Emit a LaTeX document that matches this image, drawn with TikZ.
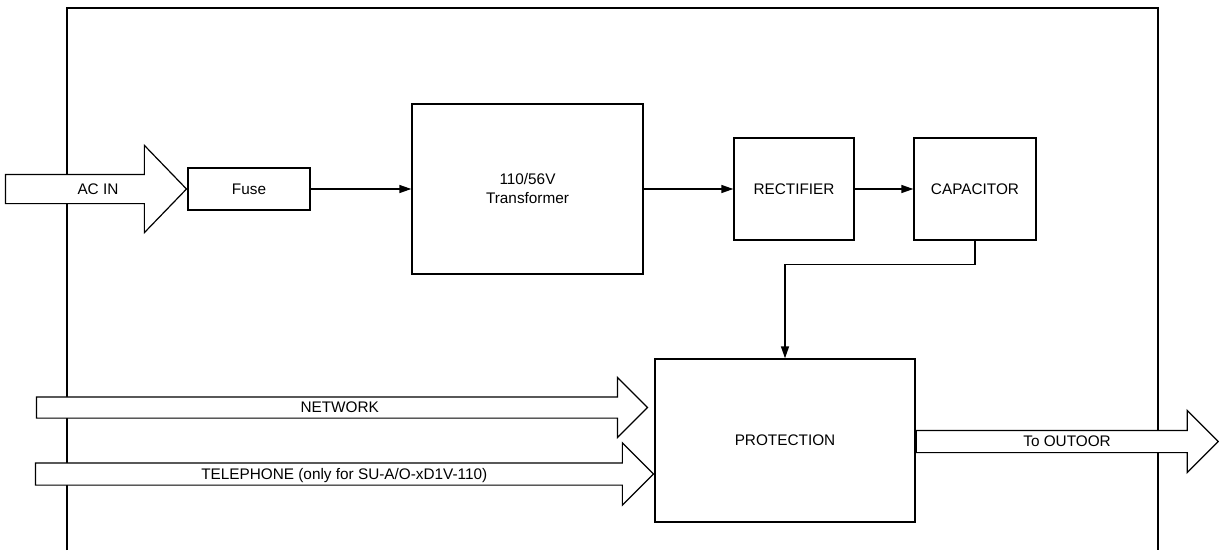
\documentclass[tikz,border=0pt]{standalone}
\usepackage{fontspec}
\setmainfont{Liberation Sans}
\usepackage{tikz}
\usetikzlibrary{arrows.meta,positioning,shapes.arrows}
\definecolor{wireblack}{HTML}{000000}
\newcommand{\psufont}{\fontsize{11.5}{14.25}\selectfont}
\newcommand{\nudge}[1]{\hspace*{#1}}
\tikzset{
  blk/.style={draw=wireblack, line width=1pt, fill=white, align=center,
              inner sep=0pt, font=\psufont},
  wire/.style={-{Triangle[length=9pt,width=6pt]}, line width=1pt,
               draw=wireblack},
  barrow/.style={single arrow, draw=wireblack, line width=0.9pt, fill=white,
                 font=\psufont, text height=8.2pt, text depth=0pt,
                 inner xsep=0pt, single arrow tip angle=90},
  frame/.style={line width=1pt, draw=wireblack},
}

\begin{document}
\begin{tikzpicture}[x=0.75pt, y=-0.75pt]
\useasboundingbox (0,0) rectangle (1219,550);

% ---------------- housing -------------------------------------------------
\draw[frame] (67,550) -- (67,8) -- (1158,8) -- (1158,550);

% ---------------- power path ----------------------------------------------
\node[blk, minimum width=91.5pt, minimum height=31.5pt] at (249,189) (fuse)
   {Fuse};
\node[blk, minimum width=173.25pt, minimum height=127.5pt] at (527.5,189) (trafo)
   {110/56V\\Transformer};
\node[blk, minimum width=90pt, minimum height=76.5pt] at (794,189) (rect)
   {RECTIFIER};
\node[blk, minimum width=91.5pt, minimum height=76.5pt] at (975,189) (cap)
   {CAPACITOR};
\node[blk, minimum width=195pt, minimum height=122.25pt] at (785,440.5) (prot)
   {PROTECTION};

\draw[wire] (fuse) -- (trafo);
\draw[wire] (trafo) -- (rect);
\draw[wire] (rect) -- (cap);
\draw[wire] (cap.south) -- ++(0,24) -| (prot.north);

% ---------------- block arrows --------------------------------------------
\node[barrow, anchor=tip, inner ysep=6.4pt, single arrow head extend=21.75pt,
      single arrow tip angle=92, minimum height=135.75pt, minimum width=64.5pt]
   at (fuse.west) (acin) {\nudge{13.5pt}AC IN};
\node[barrow, anchor=tip, inner ysep=3.4pt, single arrow head extend=14.6pt,
      minimum height=458.25pt, minimum width=44.25pt]
   at ([shift={(-6,-33)}]prot.west) (net) {\nudge{4.5pt}NETWORK};
\node[barrow, anchor=tip, inner ysep=3.775pt, single arrow head extend=15pt,
      minimum height=463.5pt, minimum width=45.75pt]
   at ([shift={(0,33.5)}]prot.west) (tel)
   {\nudge{8pt}TELEPHONE (only for SU-A/O-xD1V-110)};
\node[barrow, anchor=tail, inner ysep=3.775pt, single arrow head extend=15pt,
      minimum height=226.5pt, minimum width=45.75pt]
   at ([shift={(0,1)}]prot.east) (outdoor) {\nudge{8pt}To OUTOOR};
\end{tikzpicture}
\end{document}
